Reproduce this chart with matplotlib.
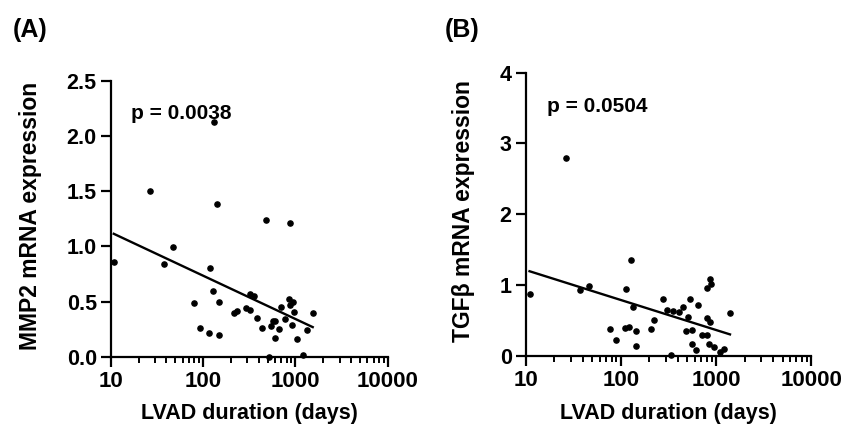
import numpy as np
import matplotlib.pyplot as plt
from matplotlib.ticker import LogLocator, NullFormatter, FixedLocator

plt.rcParams['font.family'] = ['Liberation Sans', 'DejaVu Sans']
plt.rcParams['font.weight'] = 'bold'

# panel A: MMP2
days_a = [10.8, 26.8, 37.9, 47.2, 79.6, 91.8, 115, 118, 127, 132, 140, 149, 149,
          215, 232, 290, 320, 326, 357, 379, 438, 484, 518, 540, 573, 593, 603,
          656, 695, 763, 859, 874, 881, 935, 919, 967, 1042, 1205, 1344, 1537]
mmp2 = [0.857, 1.498, 0.839, 0.993, 0.490, 0.262, 0.214, 0.809, 0.599, 2.124,
        1.384, 0.499, 0.199, 0.394, 0.415, 0.445, 0.424, 0.569, 0.548, 0.349,
        0.259, 1.236, 0.0, 0.280, 0.325, 0.171, 0.325, 0.253, 0.448, 0.340,
        0.526, 1.209, 0.475, 0.499, 0.292, 0.409, 0.165, 0.021, 0.241, 0.394]

# panel B: TGFb
days_b = [11.0, 26.6, 37.3, 46.4, 77.8, 89.3, 111, 114, 122, 127, 135, 143, 143,
          207, 223, 277, 305, 339, 356, 411, 453, 483, 507, 537, 554, 554, 616,
          647, 713, 798, 804, 810, 858, 886, 865, 851, 960, 1093, 1205, 1403]
tgfb = [0.880, 2.795, 0.932, 0.988, 0.381, 0.231, 0.395, 0.946, 0.405, 1.355,
        0.687, 0.348, 0.141, 0.381, 0.513, 0.805, 0.649, 0.014, 0.631, 0.621,
        0.696, 0.348, 0.546, 0.805, 0.372, 0.174, 0.089, 0.715, 0.301, 0.536,
        0.292, 0.955, 1.082, 1.021, 0.475, 0.174, 0.127, 0.056, 0.094, 0.607]

p_a = "p = 0.0038"
p_b = "p = 0.0504"

fig = plt.figure(figsize=(8.45, 4.32), dpi=100)
ax1 = fig.add_axes([0.131, 0.1736, 0.328, 0.6396])
ax2 = fig.add_axes([0.622, 0.176, 0.338, 0.656])


def draw(ax, x, y, ylim, yticks, yfmt, ylabel, ptext, ylab_x):
    x = np.array(x)
    y = np.array(y)
    ax.scatter(x, y, s=14, color='black', zorder=3, clip_on=False)
    # least squares on log10(days)
    k, b = np.polyfit(np.log10(x), y, 1)
    xs = np.array([x.min(), x.max()])
    ax.plot(xs, k * np.log10(xs) + b, color='black', lw=1.7)
    ax.set_xscale('log')
    ax.set_xlim(10, 10000)
    ax.set_ylim(*ylim)
    ax.yaxis.set_major_locator(FixedLocator(yticks))
    ax.set_yticklabels([yfmt % v for v in yticks])
    ax.xaxis.set_minor_locator(LogLocator(base=10, subs=np.arange(2, 10), numticks=10))
    ax.xaxis.set_minor_formatter(NullFormatter())
    ax.set_xticks([10, 100, 1000, 10000])
    ax.set_xticklabels(['10', '100', '1000', '10000'])
    for s in ['top', 'right']:
        ax.spines[s].set_visible(False)
    for s in ['left', 'bottom']:
        ax.spines[s].set_linewidth(1.6)
    ax.tick_params(which='major', length=7, width=1.6, labelsize=15.5, pad=3)
    ax.tick_params(axis='x', which='major', labelsize=16)
    ax.tick_params(which='minor', length=4, width=1.4)
    ax.set_xlabel('LVAD duration (days)', fontsize=15.5, fontweight='bold')
    ax.xaxis.set_label_coords(0.5, -0.165)
    ax.set_ylabel(ylabel, fontsize=16.5, fontweight='bold')
    ax.yaxis.set_label_coords(ylab_x, 0.51)
    ax.text(0.075, 0.88, ptext, transform=ax.transAxes, fontsize=15, fontweight='bold',
            va='center', ha='left')


draw(ax1, days_a, mmp2, (0, 2.5), [0, 0.5, 1.0, 1.5, 2.0, 2.5], '%.1f',
     'MMP2 mRNA expression', p_a, -0.248)
draw(ax2, days_b, tgfb, (0, 4), [0, 1, 2, 3, 4], '%d',
     'TGFβ mRNA expression', p_b, -0.177)

fig.text(0.015, 0.93, '(A)', fontsize=18, fontweight='bold', va='center')
fig.text(0.526, 0.93, '(B)', fontsize=18, fontweight='bold', va='center')

fig.savefig('out.png', dpi=100)
